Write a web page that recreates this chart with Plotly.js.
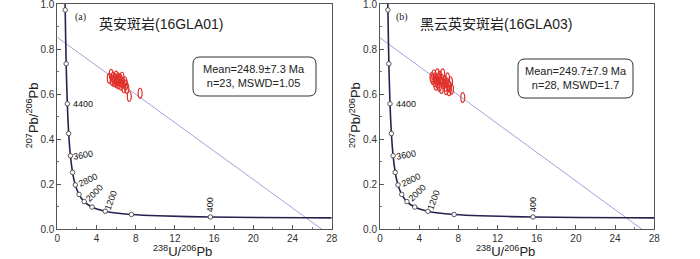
<!DOCTYPE html>
<html><head><meta charset="utf-8">
<script src="https://cdn.plot.ly/plotly-3.0.1.min.js"></script>
<style>html,body{margin:0;padding:0;background:#fff}#chart{width:700px;height:259px}</style>
</head><body><div id="chart"></div>
<script>
// Concordia curve (Tera-Wasserburg) points
const concX = [0.78403,0.80615,0.90445,1.0216,1.1632,1.3371,1.5558,1.6874,1.8383,2.0130,2.2169,2.4586,2.7491,3.1045,3.5498,4.1225,4.888,5.959,7.568,10.252,15.621,25.290,28.0];
const concY = [1.0455,0.97366,0.73470,0.55725,0.42509,0.32642,0.25245,0.22265,0.19683,0.17439,0.15482,0.13784,0.12300,0.11004,0.09872,0.08880,0.08013,0.07250,0.06580,0.05990,0.05470,0.05121,0.05065];
// Age markers (Ma)
const markerAges = [5200,4800,4400,4000,3600,3200,2800,2400,2000,1600,1200,800,400];
const markerX = [0.80615,0.90445,1.0216,1.1632,1.3371,1.5558,1.8383,2.2169,2.7491,3.5498,4.888,7.568,15.621];
const markerY = [0.97366,0.73470,0.55725,0.42509,0.32642,0.25245,0.19683,0.15482,0.12300,0.09872,0.08013,0.06580,0.05470];
const labelAges = ["4400","3600","2800","2000","1200","400"];
const labelX = [1.0216,1.3371,1.8383,2.7491,4.888,15.621];
const labelY = [0.55725,0.32642,0.19683,0.12300,0.08013,0.05470];
// Discordia lines
const discAX = [0, 27.0], discAY = [0.852, 0];
const discBX = [0, 26.74], discBY = [0.850, 0];
// Sample (a) 16GLA01 analyses
const aX = [5.3,5.5,5.6,5.7,5.8,5.9,6.0,6.05,6.1,6.2,6.25,6.3,6.4,6.5,6.55,6.6,6.7,6.8,6.9,7.0,7.1,7.35,8.45];
const aY = [0.670,0.688,0.660,0.675,0.655,0.668,0.680,0.650,0.662,0.672,0.645,0.658,0.668,0.640,0.655,0.675,0.648,0.628,0.655,0.640,0.625,0.590,0.604];
// Sample (b) 16GLA03 analyses
const bX = [5.3,5.4,5.5,5.6,5.65,5.7,5.8,5.85,5.9,6.0,6.05,6.1,6.2,6.25,6.3,6.4,6.5,6.6,6.7,6.75,6.8,6.9,7.0,7.05,7.1,7.2,7.3,8.45];
const bY = [0.675,0.665,0.685,0.655,0.672,0.640,0.660,0.690,0.648,0.668,0.635,0.680,0.655,0.625,0.665,0.690,0.645,0.660,0.635,0.620,0.650,0.672,0.640,0.615,0.632,0.655,0.622,0.585];
const errX = 0.2, errY = 0.022;
const titles = ["英安斑岩(16GLA01)", "黑云英安斑岩(16GLA03)"];
const tags = ["(a)", "(b)"];
const boxText = ["Mean=248.9±7.3 Ma<br>n=23, MSWD=1.05", "Mean=249.7±7.9 Ma<br>n=28, MSWD=1.7"];
const xTicks = [0,4,8,12,16,20,24,28];
const yTicks = [0,0.2,0.4,0.6,0.8,1.0];

(function () {
const W = 700, H = 259;
const concColor = '#2b1f4f', red = '#e0302a', discColor = '#8a8ad6';
const traces = [];
const shapes = [];
const annotations = [];
const axes = ['', '2'];
const pts = [[aX, aY], [bX, bY]];
const discs = [[discAX, discAY], [discBX, discBY]];
const panels = [{l:57.3, r:331.7}, {l:380, r:654.3}];
const topPx = 4, bottomPx = 229.3;

function rr(x0, y0, x1, y1, r) {
  const px = v => (v / W).toFixed(5), py = v => (1 - v / H).toFixed(5);
  return `M${px(x0+r)},${py(y0)} L${px(x1-r)},${py(y0)} Q${px(x1)},${py(y0)} ${px(x1)},${py(y0+r)} ` +
         `L${px(x1)},${py(y1-r)} Q${px(x1)},${py(y1)} ${px(x1-r)},${py(y1)} ` +
         `L${px(x0+r)},${py(y1)} Q${px(x0)},${py(y1)} ${px(x0)},${py(y1-r)} ` +
         `L${px(x0)},${py(y0+r)} Q${px(x0)},${py(y0)} ${px(x0+r)},${py(y0)} Z`;
}

const boxes = [[193,57,316,96],[518,59,633,98]];
const titleX = [97, 418], tagX = [80, 402];
const layout = {
  width: W, height: H, margin: {l:0, r:0, t:0, b:0},
  paper_bgcolor: '#fff', plot_bgcolor: '#fff', showlegend: false,
  font: {family: 'Liberation Sans, Arial, sans-serif', color: '#222'}
};

axes.forEach((s, i) => {
  const xa = 'x' + s, ya = 'y' + s;
  const p = panels[i];
  traces.push({x: discs[i][0], y: discs[i][1], xaxis: xa, yaxis: ya, mode: 'lines',
    line: {color: discColor, width: 0.8}, hoverinfo: 'skip'});
  traces.push({x: concX, y: concY, xaxis: xa, yaxis: ya, mode: 'lines',
    line: {color: concColor, width: 1.6, shape: 'spline', smoothing: 0.8}, hoverinfo: 'skip'});
  traces.push({x: markerX, y: markerY, text: markerAges, xaxis: xa, yaxis: ya, mode: 'markers',
    marker: {size: 4.5, color: '#fff', line: {color: '#444', width: 0.9}}});
  layout['xaxis' + s] = {
    domain: [p.l / W, p.r / W], range: [0, 28], tickvals: xTicks, ticktext: xTicks.map(String),
    ticks: 'inside', ticklen: 4, tickcolor: '#555', showline: true, linecolor: '#555', linewidth: 1,
    mirror: true, showgrid: false, zeroline: false, anchor: ya, ticklabeloverflow: 'allow',
    tickfont: {size: 10, color: '#333'}, minor: {dtick: 2, ticks: 'inside', ticklen: 2, tickcolor: '#777'}
  };
  layout['yaxis' + s] = {
    domain: [1 - bottomPx / H, 1 - topPx / H], range: [0, 1], tickvals: yTicks, ticktext: yTicks.map(v => v.toFixed(1)),
    ticks: 'inside', ticklen: 4, tickcolor: '#555', showline: true, linecolor: '#555', linewidth: 1,
    mirror: true, showgrid: false, zeroline: false, anchor: xa, ticklabeloverflow: 'allow',
    tickfont: {size: 10, color: '#333'}, minor: {dtick: 0.1, ticks: 'inside', ticklen: 2, tickcolor: '#777'}
  };
  pts[i][0].forEach((xv, k) => {
    const yv = pts[i][1][k];
    shapes.push({type: 'circle', xref: xa, yref: ya, x0: xv - errX, x1: xv + errX, y0: yv - errY, y1: yv + errY,
      line: {color: red, width: 1.2}, fillcolor: 'rgba(0,0,0,0)', layer: 'above'});
  });
  const b = boxes[i];
  shapes.push({type: 'path', xref: 'paper', yref: 'paper', path: rr(b[0], b[1], b[2], b[3], 7),
    line: {color: '#333', width: 1}, fillcolor: '#fff', layer: 'above'});
  annotations.push({xref: 'paper', yref: 'paper', x: (b[0] + b[2]) / 2 / W, y: 1 - (b[1] + b[3]) / 2 / H,
    text: boxText[i], showarrow: false, font: {size: 11, color: '#222'}, align: 'center', xanchor: 'center', yanchor: 'middle'});
  annotations.push({xref: 'paper', yref: 'paper', x: titleX[i] / W, y: 1 - 24 / H, text: titles[i], showarrow: false,
    xanchor: 'left', yanchor: 'middle', font: {size: 14, color: '#222', family: 'Liberation Sans, Noto Sans CJK SC, sans-serif'}});
  annotations.push({xref: 'paper', yref: 'paper', x: tagX[i] / W, y: 1 - 17 / H, text: tags[i], showarrow: false,
    xanchor: 'center', yanchor: 'middle', font: {size: 10, color: '#222', family: 'Liberation Serif, serif'}});
  annotations.push({xref: 'paper', yref: 'paper', x: (p.l + p.r) / 2 / W - 12 / W, y: 1 - 251 / H,
    text: '<sup>238</sup>U/<sup>206</sup>Pb', showarrow: false, xanchor: 'center', yanchor: 'middle', font: {size: 13, color: '#222'}});
  annotations.push({xref: 'paper', yref: 'paper', x: (p.l - 25) / W, y: 1 - 115 / H, textangle: -90,
    text: '<sup>207</sup>Pb/<sup>206</sup>Pb', showarrow: false, xanchor: 'center', yanchor: 'middle', font: {size: 13, color: '#222'}});
  const shifts = [[16,0,0],[13,1,-10],[13,5,-25],[10,9,-45],[6,11,-70],[0,12,-90]];
  labelAges.forEach((t, k) => {
    annotations.push({xref: xa, yref: ya, x: labelX[k], y: labelY[k], text: t, showarrow: false,
      xshift: shifts[k][0], yshift: shifts[k][1], textangle: shifts[k][2],
      xanchor: 'center', yanchor: 'middle', font: {size: 9, color: '#111'}});
  });
});
layout.shapes = shapes;
layout.annotations = annotations;
Plotly.newPlot('chart', traces, layout, {displayModeBar: false, staticPlot: true});
})();
</script></body></html>
